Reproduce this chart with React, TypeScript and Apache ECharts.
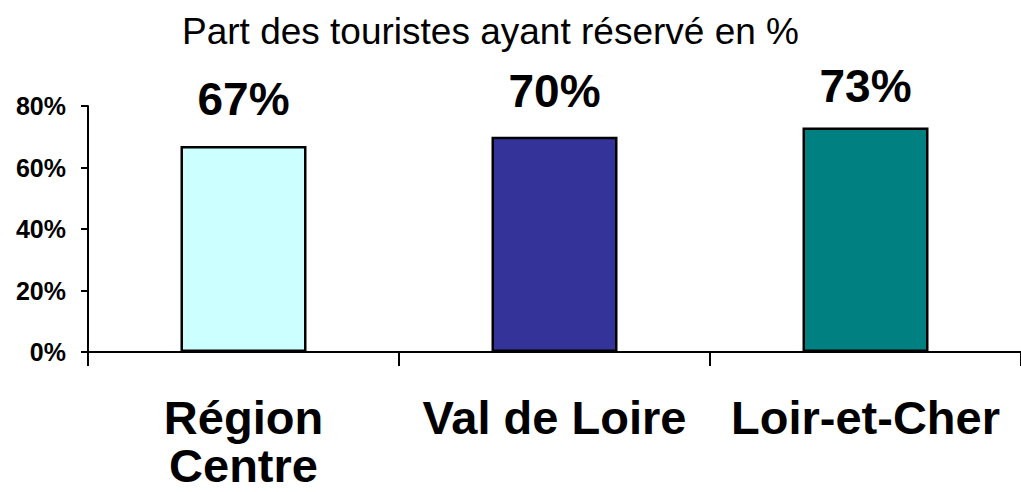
import React, { useEffect, useRef } from "react";
import * as echarts from "echarts";

const titleText = "Part des touristes ayant réservé en %";
const categories = ["Région\nCentre", "Val de Loire", "Loir-et-Cher"];
const values = [67, 70, 73];
const barColors = ["#CCFFFF", "#333399", "#008080"];
const labelDistances = [24, 23, 19];
const yTicks = { min: 0, max: 80, interval: 20 };

export default function App() {
  const ref = useRef<HTMLDivElement>(null);
  useEffect(() => {
    document.body.style.margin = "0";
    const chart = echarts.init(ref.current!, null, { renderer: "svg" });
    const font = "Arial, 'Liberation Sans', sans-serif";
    chart.setOption({
      animation: false,
      title: {
        text: titleText,
        left: 177,
        top: 8,
        textStyle: { fontFamily: font, fontSize: 37, fontWeight: "normal", color: "#000" },
      },
      grid: { left: 88, top: 106, width: 934, height: 246, containLabel: false },
      xAxis: {
        type: "category",
        data: categories,
        boundaryGap: true,
        axisLine: { lineStyle: { color: "#000", width: 2 } },
        axisTick: { show: true, length: 14, lineStyle: { color: "#000", width: 2 } },
        axisLabel: {
          color: "#000",
          fontFamily: font,
          fontWeight: "bold",
          fontSize: 47,
          lineHeight: 48,
          margin: 41,
          interval: 0,
        },
      },
      yAxis: {
        type: "value",
        min: yTicks.min,
        max: yTicks.max,
        interval: yTicks.interval,
        axisLine: { show: true, lineStyle: { color: "#000", width: 2 } },
        axisTick: { show: true, length: 7, lineStyle: { color: "#000", width: 2 } },
        splitLine: { show: false },
        axisLabel: {
          formatter: "{value}%",
          color: "#000",
          fontFamily: font,
          fontWeight: "bold",
          fontSize: 25,
          margin: 22,
        },
      },
      series: [
        {
          type: "bar",
          barWidth: 126,
          data: values.map((v, i) => ({
            value: v,
            itemStyle: { color: barColors[i], borderColor: "#000", borderWidth: 2.5 },
            label: { distance: labelDistances[i] },
          })),
          label: {
            show: true,
            position: "top",
            formatter: "{c}%",
            color: "#000",
            fontFamily: font,
            fontWeight: "bold",
            fontSize: 46,
          },
        },
      ],
    });
    return () => chart.dispose();
  }, []);
  return <div ref={ref} style={{ width: 1021, height: 492 }} />;
}
